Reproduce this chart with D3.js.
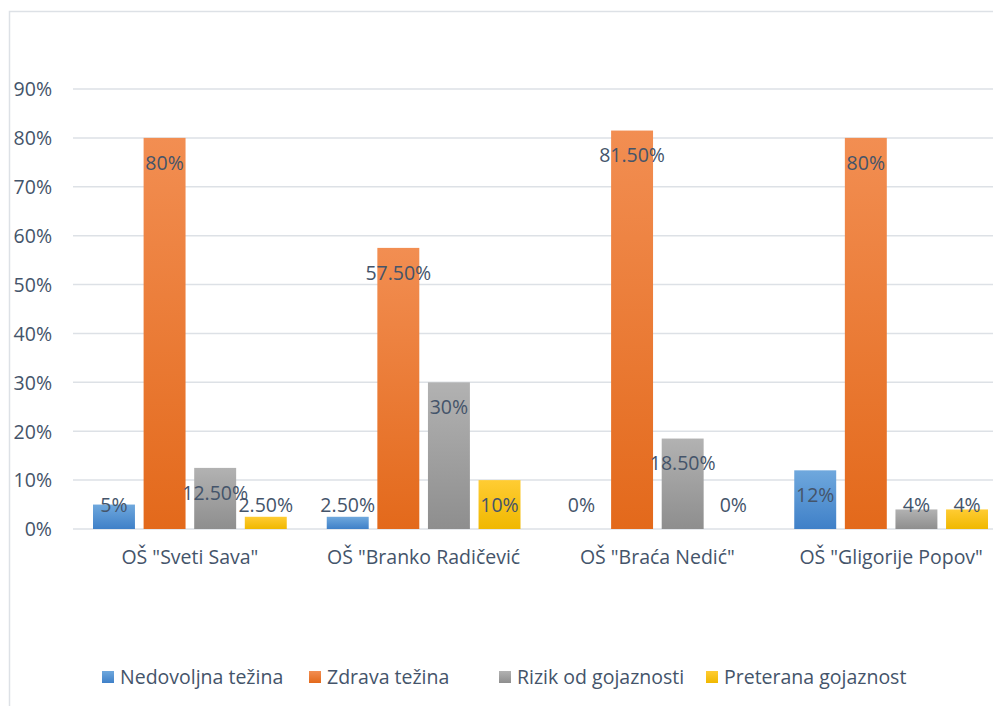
<!DOCTYPE html>
<html>
<head>
<meta charset="utf-8">
<script src="https://cdn.jsdelivr.net/npm/d3@7"></script>
<style>
html,body{margin:0;padding:0;background:#fff;overflow:hidden;}
svg{display:block;font-family:"Open Sans",sans-serif;}
</style>
</head>
<body>
<svg id="chart" width="993" height="706"></svg>
<script>
const categories = ['OŠ "Sveti Sava"', 'OŠ "Branko Radičević', 'OŠ "Braća Nedić"', 'OŠ "Gligorije Popov"'];
const seriesNames = ["Nedovoljna težina", "Zdrava težina", "Rizik od gojaznosti", "Preterana gojaznost"];
const nedovoljna = [5, 2.5, 0, 12];
const zdrava = [80, 57.5, 81.5, 80];
const rizik = [12.5, 30, 18.5, 4];
const preterana = [2.5, 10, 0, 4];
const valueLabels = [
  ["5%", "2.50%", "0%", "12%"],
  ["80%", "57.50%", "81.50%", "80%"],
  ["12.50%", "30%", "18.50%", "4%"],
  ["2.50%", "10%", "0%", "4%"]
];
const yTicks = [0, 10, 20, 30, 40, 50, 60, 70, 80, 90];
const colorsTop = ["#6fa8dd", "#f28e52", "#b2b2b2", "#ffcc33"];
const colorsBottom = ["#3f80c8", "#e3691b", "#8e8e8e", "#f0b800"];

const seriesValues = [nedovoljna, zdrava, rizik, preterana];
const svg = d3.select("#chart");
const textColor = "#44546a";
const fontFamily = "'Open Sans', sans-serif";
const fs = 19.5;

// outer border
svg.append("rect").attr("x", 9.5).attr("y", 11.5).attr("width", 1100).attr("height", 800)
  .attr("fill", "none").attr("stroke", "#dde1e6").attr("stroke-width", 1.5);

const defs = svg.append("defs");
seriesNames.forEach((s, i) => {
  const g = defs.append("linearGradient").attr("id", "grad" + i)
    .attr("x1", 0).attr("y1", 0).attr("x2", 0).attr("y2", 1);
  g.append("stop").attr("offset", "0%").attr("stop-color", colorsTop[i]);
  g.append("stop").attr("offset", "100%").attr("stop-color", colorsBottom[i]);
});

const y = d3.scaleLinear().domain([0, 90]).range([529, 89]);
const x0 = d3.scaleBand().domain(categories).range([73, 1008]).paddingInner(0).paddingOuter(0);
const x1 = d3.scaleBand().domain(seriesNames).range([20, x0.bandwidth() - 20]).paddingInner(0.171).paddingOuter(0);

// gridlines
svg.append("g").selectAll("line").data(yTicks).join("line")
  .attr("x1", 73).attr("x2", 1008)
  .attr("y1", d => y(d)).attr("y2", d => y(d))
  .attr("stroke", "#dde1e6").attr("stroke-width", 1.5);

// y axis labels
const yAxis = d3.axisLeft(y).tickValues(yTicks).tickFormat(d => d + "%").tickSize(0).tickPadding(0);
const ya = svg.append("g").attr("transform", "translate(52,0)").call(yAxis);
ya.select(".domain").remove();
ya.selectAll("text").attr("font-size", fs).attr("fill", textColor)
  .attr("font-family", fontFamily).attr("dy", "0.35em");

// x axis labels
const xAxis = d3.axisBottom(x0).tickSize(0).tickPadding(0);
const xa = svg.append("g").attr("transform", "translate(0,557)").call(xAxis);
xa.select(".domain").remove();
xa.selectAll("text").attr("font-size", fs).attr("fill", textColor)
  .attr("font-family", fontFamily).attr("dy", "0.35em");

// bars
const groups = svg.append("g").selectAll("g").data(categories).join("g")
  .attr("transform", d => `translate(${x0(d)},0)`);

groups.each(function(cat, ci) {
  const g = d3.select(this);
  seriesNames.forEach((s, si) => {
    const v = seriesValues[si][ci];
    if (v > 0) {
      g.append("rect").attr("x", x1(s)).attr("y", y(v))
        .attr("width", x1.bandwidth()).attr("height", y(0) - y(v))
        .attr("fill", `url(#grad${si})`);
    }
  });
  seriesNames.forEach((s, si) => {
    const v = seriesValues[si][ci];
    const ly = Math.min(y(v) + 25, y(0) - 24);
    g.append("text").attr("x", x1(s) + x1.bandwidth() / 2).attr("y", ly)
      .attr("dy", "0.35em").attr("text-anchor", "middle")
      .attr("font-size", fs).attr("fill", textColor)
      .text(valueLabels[si][ci]);
  });
});

// legend
const legendX = [102, 309, 499, 706];
const legend = svg.append("g");
seriesNames.forEach((s, i) => {
  legend.append("rect").attr("x", legendX[i]).attr("y", 671).attr("width", 12).attr("height", 12)
    .attr("fill", `url(#grad${i})`);
  legend.append("text").attr("x", legendX[i] + 18).attr("y", 677).attr("dy", "0.35em")
    .attr("font-size", fs).attr("fill", textColor).text(s);
});
</script>
</body>
</html>
